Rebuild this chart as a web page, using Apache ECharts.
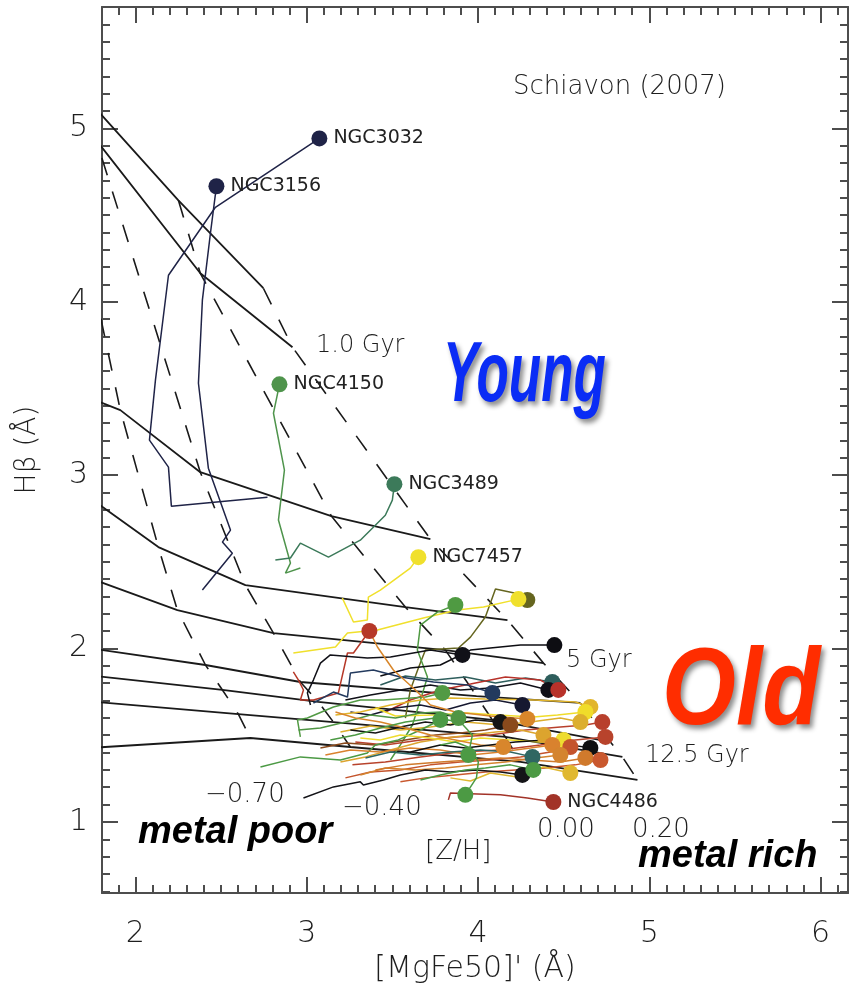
<!DOCTYPE html>
<html>
<head>
<meta charset="utf-8">
<script src="https://cdn.jsdelivr.net/npm/echarts@6/dist/echarts.min.js"></script>
<style>
  html, body { margin: 0; padding: 0; background: #ffffff; }
  #chart { width: 850px; height: 994px; }
</style>
</head>
<body>
<div id="chart"></div>
<script>
// ---- axis ranges and tick labels ----
const xRange = [1.805, 6.16];
const yRange = [0.59, 5.70];
const xTickLabels = [2, 3, 4, 5, 6];
const yTickLabels = [1, 2, 3, 4, 5];
const minorStep = 0.1;

// ---- model grid (Schiavon 2007): one row per age, one column per [Z/H] ----
const metallicities = [-1.3, -0.7, -0.4, 0.0, 0.2];
const gridMgFe = [
  [1.212, 1.445, 1.679, 2.251, 2.747],
  [1.212, 1.504, 1.772, 2.379, 2.917],
  [1.445, 1.912, 2.379, 3.144, 3.722],
  [1.445, 2.134, 2.642, 3.576, 4.172],
  [1.445, 2.245, 2.806, 3.810, 4.382],
  [1.445, 2.409, 2.963, 3.991, 4.598],
  [1.445, 2.508, 3.068, 4.084, 4.773],
  [1.445, 2.601, 3.156, 4.160, 4.843],
  [1.445, 2.671, 3.255, 4.248, 4.931]
];
const gridHb = [
  [5.738, 5.478, 5.213, 4.585, 4.078],
  [5.640, 5.271, 4.931, 4.164, 3.738],
  [3.559, 3.375, 3.017, 2.764, 2.631],
  [3.075, 2.585, 2.366, 2.239, 2.164],
  [2.510, 2.222, 2.089, 1.991, 1.916],
  [2.043, 1.905, 1.807, 1.726, 1.686],
  [1.876, 1.761, 1.692, 1.588, 1.461],
  [1.720, 1.622, 1.576, 1.490, 1.375],
  [1.409, 1.484, 1.432, 1.346, 1.242]
];

// ---- galaxy radial tracks: first point of each track is the central value ----
const galaxyNames = [
  'NGC3032', 'NGC3156', 'NGC4150', 'NGC3489', 'NGC7457', 'NGC4486',
  '', '', '', '', '', '', '', '', '', '', '', '', '', '', '', '', '', '', '',
  '', '', '', '', '', '', '', '', '', '', '', '', '', '', '', '', '', ''
];
const trackMgFe = [
  [3.074, 2.467, 2.193, 2.117, 2.082, 2.193, 2.210, 2.771],
  [2.473, 2.438, 2.391, 2.368, 2.426, 2.555, 2.508, 2.566, 2.391],
  [2.841, 2.806, 2.870, 2.835, 2.905, 2.876, 2.963],
  [3.512, 3.500, 3.459, 3.313, 3.127, 2.963, 2.905, 2.817],
  [3.652, 3.605, 3.430, 3.360, 3.354, 3.273, 3.208],
  [4.440, 4.288, 4.131, 3.997, 3.839, 3.827],
  [4.288, 4.212, 4.102, 4.043, 3.956, 3.886, 3.693, 3.652, 3.605, 3.576],
  [4.236, 4.032, 3.880, 3.681, 3.413, 3.238, 3.168, 2.922],
  [3.868, 3.763, 3.664, 3.646, 3.705, 3.664, 3.617, 3.547, 3.489],
  [3.366, 3.273, 3.238, 3.185, 3.039, 2.963, 2.981, 2.952, 2.922],
  [3.909, 3.722, 3.489, 3.354, 3.138, 3.080, 3.039, 3.004, 3.022],
  [4.446, 4.248, 4.072, 3.956, 3.780, 3.605, 3.430],
  [4.434, 4.277, 4.102, 3.926, 3.751, 3.576, 3.430],
  [4.411, 4.248, 4.072, 3.897, 3.722, 3.547, 3.372, 3.226],
  [4.469, 4.364, 4.160, 3.956, 3.780, 3.605, 3.459],
  [3.792, 3.693, 3.448, 3.313, 3.156, 3.004, 2.946, 2.963],
  [4.084, 3.938, 3.740, 3.547, 3.389, 3.255, 3.238, 3.156, 3.039],
  [4.259, 4.102, 3.956, 3.810, 3.664, 3.518, 3.372, 3.255],
  [4.656, 4.568, 4.335, 4.043, 3.839, 3.664, 3.489, 3.313, 3.168],
  [4.627, 4.464, 4.323, 4.113, 3.938, 3.740, 3.518, 3.401],
  [4.598, 4.481, 4.306, 4.131, 3.926, 3.722, 3.547, 3.372, 3.197],
  [4.726, 4.627, 4.481, 4.277, 4.072, 3.868, 3.664, 3.459, 3.284],
  [4.288, 4.072, 3.868, 3.722, 3.635, 3.506, 3.413, 3.384],
  [4.131, 3.985, 3.839, 3.693, 3.547, 3.401, 3.255],
  [4.189, 4.043, 3.897, 3.751, 3.576, 3.401, 3.226, 3.080],
  [3.886, 3.780, 3.664, 3.518, 3.372, 3.226, 3.080, 2.952],
  [3.780, 3.664, 3.535, 3.401, 3.354, 3.197, 2.963, 2.730],
  [4.744, 4.568, 4.364, 4.131, 3.897, 3.664, 3.459, 3.267],
  [4.382, 4.248, 4.102, 3.956, 3.810, 3.664, 3.489, 3.343, 3.197],
  [4.499, 4.364, 4.189, 4.014, 3.868, 3.722, 3.547, 3.430, 3.313],
  [4.434, 4.306, 4.131, 3.956, 3.780, 3.605, 3.430, 3.255, 3.109],
  [4.539, 4.423, 4.248, 4.072, 3.897, 3.722, 3.547, 3.372, 3.226],
  [4.148, 4.014, 3.868, 3.722, 3.576, 3.430, 3.284, 3.168],
  [4.656, 4.539, 4.393, 4.218, 4.072, 3.926, 3.780, 3.605],
  [4.481, 4.335, 4.160, 3.985, 3.810, 3.635, 3.459, 3.313],
  [4.627, 4.481, 4.306, 4.131, 3.956, 3.780, 3.576, 3.401],
  [4.715, 4.568, 4.393, 4.218, 4.043, 3.868, 3.693, 3.547],
  [3.944, 3.967, 3.897, 3.751, 3.576, 3.430, 3.284, 3.138],
  [4.318, 4.189, 4.014, 3.839, 3.664, 3.489, 3.343],
  [4.259, 4.131, 3.985, 3.839, 3.693, 3.547, 3.448, 3.331, 3.313, 3.156, 2.981],
  [4.323, 4.189, 4.043, 3.926, 3.780, 3.664],
  [4.539, 4.382, 4.230, 4.072, 3.956, 3.839],
  [3.926, 3.991, 4.002, 3.956, 3.868, 3.780]
];
const trackHb = [
  [4.942, 4.545, 4.153, 3.548, 3.202, 3.046, 2.821, 2.873],
  [4.666, 4.395, 4.009, 3.530, 3.040, 2.683, 2.614, 2.550, 2.337],
  [3.524, 3.357, 3.029, 2.741, 2.493, 2.435, 2.464],
  [2.948, 2.856, 2.769, 2.625, 2.527, 2.608, 2.522, 2.510],
  [2.527, 2.464, 2.337, 2.297, 2.164, 2.153, 2.291],
  [1.115, 1.138, 1.156, 1.161, 1.167, 1.127],
  [2.280, 2.320, 2.343, 2.182, 2.066, 2.003, 1.991, 1.888, 1.761, 1.599],
  [2.285, 2.239, 2.222, 2.176, 2.107, 2.089, 2.009, 1.974],
  [2.251, 2.210, 2.135, 1.991, 1.836, 1.703, 1.559, 1.444, 1.357],
  [2.101, 1.974, 1.974, 1.744, 1.703, 1.703, 1.761, 1.818, 1.865],
  [1.963, 1.991, 1.951, 1.945, 1.963, 1.916, 1.818, 1.744, 1.674],
  [2.020, 2.020, 2.003, 1.991, 1.905, 1.888, 1.842],
  [1.807, 1.830, 1.801, 1.836, 1.818, 1.842, 1.790],
  [1.761, 1.801, 1.772, 1.761, 1.790, 1.761, 1.732, 1.703],
  [1.761, 1.818, 1.836, 1.795, 1.761, 1.703, 1.634],
  [1.744, 1.720, 1.703, 1.703, 1.663, 1.599, 1.588, 1.490],
  [1.744, 1.790, 1.807, 1.836, 1.876, 1.859, 1.720, 1.749, 1.686],
  [1.674, 1.703, 1.686, 1.645, 1.674, 1.657, 1.617, 1.634],
  [1.663, 1.692, 1.703, 1.709, 1.715, 1.703, 1.674, 1.634, 1.617],
  [1.634, 1.617, 1.605, 1.617, 1.628, 1.617, 1.611, 1.657],
  [1.576, 1.599, 1.576, 1.559, 1.576, 1.547, 1.530, 1.553, 1.519],
  [1.576, 1.559, 1.547, 1.530, 1.501, 1.490, 1.473, 1.444, 1.461],
  [1.594, 1.611, 1.634, 1.674, 1.761, 1.876, 2.009, 2.066],
  [1.576, 1.588, 1.559, 1.576, 1.547, 1.513, 1.530],
  [1.559, 1.530, 1.513, 1.501, 1.473, 1.444, 1.455, 1.426],
  [1.599, 1.634, 1.628, 1.599, 1.617, 1.576, 1.542, 1.530],
  [1.588, 1.530, 1.473, 1.444, 1.398, 1.357, 1.375, 1.317],
  [1.490, 1.473, 1.444, 1.415, 1.403, 1.375, 1.346, 1.329],
  [1.501, 1.530, 1.519, 1.501, 1.484, 1.461, 1.415, 1.375, 1.346],
  [1.473, 1.461, 1.473, 1.484, 1.461, 1.484, 1.501, 1.473, 1.484],
  [1.444, 1.426, 1.403, 1.386, 1.415, 1.426, 1.403, 1.415, 1.386],
  [1.432, 1.403, 1.375, 1.357, 1.346, 1.329, 1.300, 1.288, 1.254],
  [1.432, 1.444, 1.473, 1.501, 1.542, 1.576, 1.599, 1.634],
  [1.427, 1.444, 1.473, 1.461, 1.444, 1.426, 1.444, 1.403],
  [1.386, 1.369, 1.346, 1.329, 1.311, 1.300, 1.311, 1.271],
  [1.369, 1.346, 1.357, 1.369, 1.357, 1.346, 1.329, 1.300],
  [1.357, 1.329, 1.311, 1.300, 1.288, 1.271, 1.254, 1.231],
  [1.386, 1.501, 1.576, 1.599, 1.576, 1.542, 1.501, 1.473],
  [1.375, 1.403, 1.415, 1.403, 1.386, 1.403, 1.369],
  [1.271, 1.288, 1.300, 1.288, 1.300, 1.271, 1.242, 1.213, 1.231, 1.202, 1.138],
  [1.300, 1.329, 1.311, 1.300, 1.271, 1.242],
  [1.282, 1.317, 1.259, 1.282, 1.236, 1.254],
  [1.156, 1.254, 1.346, 1.426, 1.461, 1.444]
];

// ---- styling ----
const galaxyColors = [
  '#1f2347', '#1f2347', '#4f944c', '#3c7a5a', '#f0e02c', '#a23328',
  '#65651f', '#f0e02c', '#4f9a42', '#b63828', '#111118', '#0d0d12', '#2e5e5c',
  '#101018', '#b8322a', '#529a44', '#233a5e', '#161830', '#e2b52c', '#f0dc2a',
  '#dcae2e', '#b8402c', '#d8862a', '#151515', '#8a4a1c', '#4f9544', '#4c9a45',
  '#b8432c', '#dca42e', '#eedc30', '#d9822e', '#c4542c', '#d8862c', '#101010',
  '#d4842e', '#d07a2c', '#c9582e', '#4c9a44', '#2f6762', '#141418', '#4c9a44',
  '#e0b830', '#4c9a44'
];
const AXIS_COLOR = '#4d4d4d';
const TEXT_COLOR = '#1e1e1e';
const PLOT_FONT = '"DejaVu Sans", sans-serif';
const PLOT_WEIGHT = 200;
const SLIDE_FONT = '"Liberation Sans", sans-serif';
const SLIDE_NARROW = '"Liberation Sans Narrow", "Liberation Sans", sans-serif';

function minorTicks(range, majors) {
  const out = [];
  const start = Math.ceil(range[0] / minorStep);
  const end = Math.floor(range[1] / minorStep);
  for (let k = start; k <= end; k++) {
    const v = +(k * minorStep).toFixed(3);
    if (!majors.some(m => Math.abs(m - v) < 1e-6)) out.push(v);
  }
  return out;
}
const xMinor = minorTicks(xRange, xTickLabels);
const yMinor = minorTicks(yRange, yTickLabels);

function frameAxis(range, position, ticks, len, withLine, extra) {
  return Object.assign({
    type: 'value',
    min: range[0],
    max: range[1],
    position: position,
    axisLine: { show: withLine, onZero: false, lineStyle: { color: AXIS_COLOR, width: 2 } },
    axisTick: { show: true, inside: true, length: len, customValues: ticks,
                lineStyle: { color: AXIS_COLOR, width: 2 } },
    axisLabel: { show: false },
    splitLine: { show: false }
  }, extra || {});
}

const xAxes = [
  frameAxis(xRange, 'bottom', xTickLabels, 16, true, {
    axisLabel: { show: true, customValues: xTickLabels, fontSize: 30, margin: 26,
                 color: TEXT_COLOR, fontFamily: PLOT_FONT, fontWeight: PLOT_WEIGHT },
    name: "[MgFe50]' (Å)", nameLocation: 'middle', nameGap: 58,
    nameTextStyle: { fontSize: 30, color: TEXT_COLOR, fontFamily: PLOT_FONT, fontWeight: PLOT_WEIGHT }
  }),
  frameAxis(xRange, 'bottom', xMinor, 8, false),
  frameAxis(xRange, 'top', xTickLabels, 16, true),
  frameAxis(xRange, 'top', xMinor, 8, false)
];
const yAxes = [
  frameAxis(yRange, 'left', yTickLabels, 16, true, {
    axisLabel: { show: true, customValues: yTickLabels, fontSize: 30, margin: 14,
                 color: TEXT_COLOR, fontFamily: PLOT_FONT, fontWeight: PLOT_WEIGHT },
    name: 'Hβ (Å)', nameLocation: 'middle', nameGap: 60, nameRotate: 90,
    nameTextStyle: { fontSize: 28, color: TEXT_COLOR, fontFamily: PLOT_FONT, fontWeight: PLOT_WEIGHT }
  }),
  frameAxis(yRange, 'left', yMinor, 8, false),
  frameAxis(yRange, 'right', yTickLabels, 16, true),
  frameAxis(yRange, 'right', yMinor, 8, false)
];

const series = [];

// constant-age model lines (solid)
gridMgFe.forEach((row, i) => {
  series.push({
    type: 'line', silent: true, symbol: 'none', clip: true, z: 2,
    data: row.map((x, j) => [x, gridHb[i][j]]),
    lineStyle: { color: '#1a1a1a', width: 1.8 }
  });
});
// constant-metallicity model lines (dashed)
metallicities.forEach((z, j) => {
  series.push({
    type: 'line', silent: true, symbol: 'none', clip: true, z: 2,
    data: gridMgFe.map((row, i) => [row[j], gridHb[i][j]]),
    lineStyle: { color: '#1a1a1a', width: 1.6, type: [18, 17] }
  });
});
// galaxy radial tracks
trackMgFe.forEach((xs, g) => {
  series.push({
    type: 'line', silent: true, symbol: 'none', clip: true, z: 3,
    data: xs.map((x, k) => [x, trackHb[g][k]]),
    lineStyle: { color: galaxyColors[g], width: 1.5 }
  });
});
// central values
series.push({
  type: 'scatter', silent: true, z: 5, symbolSize: 16,
  data: trackMgFe.map((xs, g) => ({
    value: [xs[0], trackHb[g][0]],
    name: galaxyNames[g],
    itemStyle: { color: galaxyColors[g], opacity: 1 }
  })),
  label: {
    show: true, position: 'right', distance: 6,
    formatter: p => p.name,
    fontSize: 19, color: '#222222', fontFamily: PLOT_FONT
  }
});

// free text annotations
function note(text, x, y, font, fill, extraStyle, elProps) {
  return Object.assign({
    type: 'text', x: x, y: y, z: 10, silent: true,
    style: Object.assign({
      text: text, fill: fill || TEXT_COLOR, font: font,
      textAlign: 'left', textVerticalAlign: 'middle'
    }, extraStyle || {})
  }, elProps || {});
}
const plotFont = size => PLOT_WEIGHT + ' ' + size + 'px ' + PLOT_FONT;
const shadow = {
  shadowColor: 'rgba(0,0,0,0.45)', shadowBlur: 5, shadowOffsetX: 3, shadowOffsetY: 4,
  textShadowColor: 'rgba(0,0,0,0.45)', textShadowBlur: 5, textShadowOffsetX: 3, textShadowOffsetY: 4
};
const graphics = [
  note('Schiavon (2007)', 513, 87, plotFont(26)),
  note('1.0 Gyr', 316, 346, plotFont(24)),
  note('5 Gyr', 566, 661, plotFont(24)),
  note('12.5 Gyr', 645, 756, plotFont(24)),
  note('\u22120.70', 205, 795, plotFont(26)),
  note('\u22120.40', 342, 808, plotFont(26)),
  note('[Z/H]', 425, 852, plotFont(26)),
  note('0.00', 537, 830, plotFont(26)),
  note('0.20', 632, 830, plotFont(26)),
  note('metal poor', 138, 833, 'italic bold 38px ' + SLIDE_FONT, '#000'),
  note('metal rich', 638, 857, 'italic bold 38px ' + SLIDE_FONT, '#000'),
  note('Young', 443, 378, 'italic bold 53px ' + SLIDE_NARROW, '#0a2cf5', shadow, { scaleY: 1.6 }),
  note('Old', 662, 694, 'italic bold 95px ' + SLIDE_NARROW, '#ff2d00', shadow, { scaleY: 1.15 })
];

const chart = echarts.init(document.getElementById('chart'), null, { renderer: 'canvas' });
chart.setOption({
  backgroundColor: '#ffffff',
  animation: false,
  grid: { left: 102, right: 2, top: 7, bottom: 101, containLabel: false },
  xAxis: xAxes,
  yAxis: yAxes,
  series: series,
  graphic: graphics
});
</script>
</body>
</html>
